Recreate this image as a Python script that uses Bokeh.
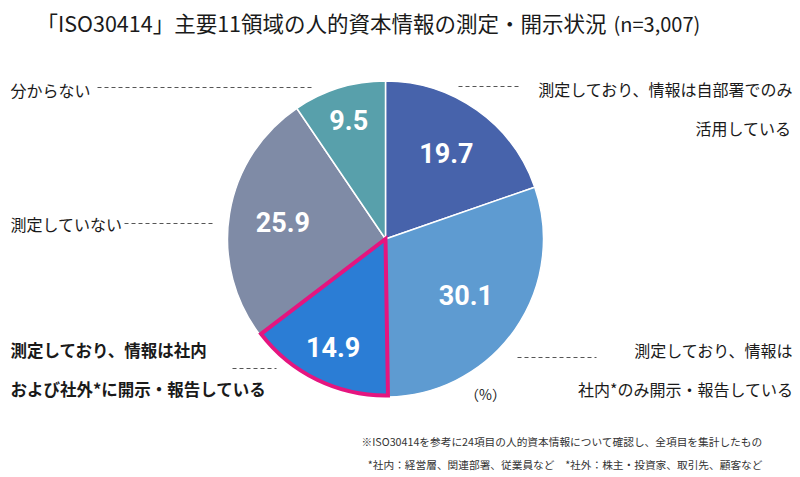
import numpy as np
from bokeh.plotting import figure
from bokeh.models import Range1d
from bokeh.core.properties import value
from bokeh.embed import file_html
from bokeh.resources import INLINE

# ---- data ----
categories = [
    "測定しており、情報は自部署でのみ活用している",
    "測定しており、情報は社内*のみ開示・報告している",
    "測定しており、情報は社内および社外*に開示・報告している",
    "測定していない",
    "分からない",
]
values = [19.7, 30.1, 14.9, 25.9, 9.5]
value_labels = ["19.7", "30.1", "14.9", "25.9", "9.5"]
colors = ["#4763ab", "#5e9bd1", "#2b7dd5", "#7f8ba6", "#58a0ab"]
highlight = 2  # index of highlighted slice

title_main = "「ISO30414」主要11領域の人的資本情報の測定・開示状況"
title_n = "(n=3,007)"
unit_label = "（%）"
notes = [
    "※ISO30414を参考に24項目の人的資本情報について確認し、全項目を集計したもの",
    "*社内：経営層、関連部署、従業員など　*社外：株主・投資家、取引先、顧客など",
]

# ---- layout ----
W, H = 800, 477
def X(xr):
    return xr
def Y(yr):
    return H - yr

JP = value("Noto Sans CJK JP")
NUM = value("Roboto")

p = figure(width=W, height=H, output_backend="svg", toolbar_location=None,
           x_range=Range1d(0, W), y_range=Range1d(0, H), min_border=0)
p.axis.visible = False
p.grid.visible = False
p.outline_line_color = None
p.background_fill_color = "white"
p.border_fill_color = "white"

cx, cy, r = X(385), Y(238.5), 158
vals = np.array(values)
tot = vals.sum()
cum = np.concatenate([[0], np.cumsum(vals)])
start = np.pi / 2 - 2 * np.pi * cum[:-1] / tot
end = np.pi / 2 - 2 * np.pi * cum[1:] / tot

p.wedge(x=[cx] * len(vals), y=[cy] * len(vals), radius=r,
        start_angle=list(start), end_angle=list(end), direction="clock",
        fill_color=colors, line_color="white", line_width=1.5)

# highlighted slice outline
p.wedge(x=[cx], y=[cy], radius=r - 1.5,
        start_angle=[start[highlight]], end_angle=[end[highlight]], direction="clock",
        fill_color=None, line_color="#e5157f", line_width=4, line_join="miter")

# value labels
label_r = [105, 98, 120, 104, 125]
mid = (start + end) / 2
lx = [cx + lr * np.cos(a) for lr, a in zip(label_r, mid)]
ly = [cy + lr * np.sin(a) for lr, a in zip(label_r, mid)]
p.text(x=lx, y=ly, text=value_labels, text_font=NUM, text_font_size="27px",
       text_font_style="bold", text_color="white", text_align="center",
       text_baseline="middle")

# title
p.text(x=[X(606)], y=[Y(22)], text=[title_main], text_font=JP, text_font_size="21.5px",
       text_color="#1a1a1a", text_align="right", text_baseline="middle")
p.text(x=[X(613)], y=[Y(23)], text=[title_n], text_font=JP, text_font_size="20px",
       text_color="#1a1a1a", text_align="left", text_baseline="middle")

# category labels
def label(txt, xr, yr, align="left", bold=False, size="16px"):
    p.text(x=[X(xr)], y=[Y(yr)], text=[txt], text_font=JP, text_font_size=size,
           text_color="#1a1a1a", text_align=align, text_baseline="middle",
           text_font_style="bold" if bold else "normal")

label("分からない", 10, 89)
label("測定していない", 10, 223)
label("測定しており、情報は社内", 10, 349, bold=True, size="16.5px")
label("および社外*に開示・報告している", 10, 388, bold=True, size="16.5px")
label("測定しており、情報は自部署でのみ", 793, 88, align="right")
label("活用している", 791, 127, align="right")
label("測定しており、情報は", 793, 349, align="right")
label("社内*のみ開示・報告している", 793, 388, align="right")
label(unit_label, 485, 393, align="center", size="14px")

# leader dashes
segs = [(97, 87, 313, 87), (124, 223, 214, 223), (458, 86, 519, 86),
        (517, 357, 596, 357), (232, 368, 276, 368)]
p.segment(x0=[X(s[0]) for s in segs], y0=[Y(s[1]) for s in segs],
          x1=[X(s[2]) for s in segs], y1=[Y(s[3]) for s in segs],
          line_color="#555555", line_width=1, line_dash="4 3")

# notes
p.text(x=[X(762), X(762)], y=[Y(441), Y(464)], text=notes, text_font=JP,
       text_font_size="10.7px", text_color="#333333", text_align="right",
       text_baseline="middle")

open("out.html", "w").write(file_html(p, INLINE))
